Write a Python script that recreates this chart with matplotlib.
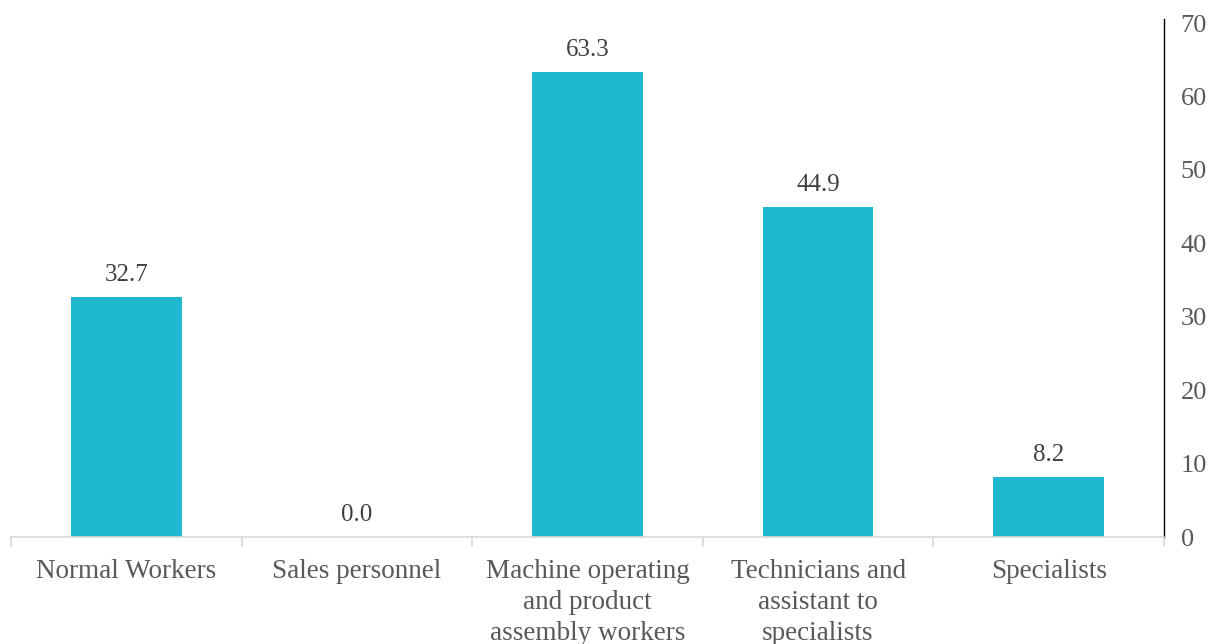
import matplotlib.pyplot as plt
import numpy as np

categories = ["Normal Workers", "Sales personnel",
              "Machine operating\nand product\nassembly workers",
              "Technicians and\nassistant to\nspecialists", "Specialists"]
values = [32.7, 0.0, 63.3, 44.9, 8.2]
yticks = [0, 10, 20, 30, 40, 50, 60, 70]

plt.rcParams['font.family'] = ['Liberation Serif', 'DejaVu Serif']

fig = plt.figure(figsize=(12.09, 6.44), dpi=100)
ax = fig.add_axes([11 / 1209, 1 - 537 / 644, (1164 - 11) / 1209, (537 - 23) / 644])

x = np.arange(len(categories))
ax.bar(x, values, width=0.48, color="#1fb8cf", zorder=2)
for xi, v in zip(x, values):
    ax.annotate(f"{v:.1f}", (xi, v), xytext=(0, 8), textcoords="offset points",
                ha="center", va="bottom", fontsize=18, color="#404040")

ax.set_xlim(-0.5, len(categories) - 0.5)
ax.set_ylim(0, 70)
ax.yaxis.tick_right()
ax.set_yticks(yticks)
ax.set_yticklabels([str(t) for t in yticks], fontsize=19, color="#595959")
ax.tick_params(axis="y", length=0, pad=12)

ax.set_xticks(x)
ax.set_xticklabels(categories, fontsize=19.5, color="#595959", linespacing=1.3)
ax.set_xticks(np.arange(-0.5, len(categories)), minor=True)
ax.tick_params(axis="x", which="major", length=0, pad=16)
ax.tick_params(axis="x", which="minor", length=7, color="#d9d9d9", width=1.2)

for s in ["top", "left"]:
    ax.spines[s].set_visible(False)
ax.spines["bottom"].set_color("#d9d9d9")
ax.spines["bottom"].set_linewidth(1.2)
ax.spines["right"].set_color("black")
ax.spines["right"].set_linewidth(1.0)
ax.spines["right"].set_bounds(0, 70.5)

fig.savefig("out.png", dpi=100)
